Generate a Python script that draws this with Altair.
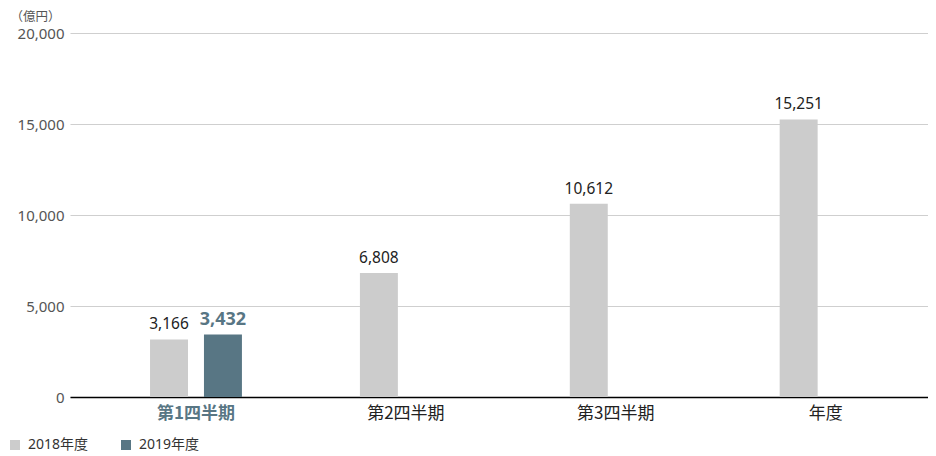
import altair as alt
import pandas as pd

categories = ["第1四半期", "第2四半期", "第3四半期", "年度"]
years = ["2018年度", "2019年度"]
values_2018 = [3166, 6808, 10612, 15251]
values_2019 = {"第1四半期": 3432}
y_ticks = [0, 5000, 10000, 15000, 20000]

rows = []
for c, v in zip(categories, values_2018):
    rows.append({"category": c, "year": years[0], "value": v})
for c, v in values_2019.items():
    rows.append({"category": c, "year": years[1], "value": v})
df = pd.DataFrame(rows)

FONT = "Noto Sans, Noto Sans CJK JP, sans-serif"
ACCENT = "#587684"
GRAY = "#cccccc"

x_enc = alt.X(
    "category:N",
    sort=categories,
    scale=alt.Scale(paddingInner=0.3, paddingOuter=0.194, align=0.645),
    axis=alt.Axis(
        title=None,
        labelAngle=0,
        ticks=False,
        domain=True,
        domainColor="#000000",
        domainWidth=1.5,
        labelFontSize=17,
        labelPadding=8,
        labelFont="Noto Sans CJK JP",
        labelColor=alt.ExprRef("datum.value == '第1四半期' ? '%s' : '#222222'" % ACCENT),
        labelFontWeight=alt.ExprRef("datum.value == '第1四半期' ? 'bold' : 'normal'"),
    ),
)
xoff_enc = alt.XOffset(
    "year:N", sort=years, scale=alt.Scale(domain=years, paddingInner=0.296, paddingOuter=0.51)
)
y_enc = alt.Y(
    "value:Q",
    scale=alt.Scale(domain=[0, 20000], nice=False),
    axis=alt.Axis(
        values=y_ticks,
        format=",.0f",
        grid=True,
        gridColor="#cfcfcf",
        gridWidth=1,
        domain=False,
        ticks=False,
        labelFontSize=15,
        labelColor="#555555",
        labelFont=FONT,
        labelPadding=6,
        title="（億円）",
        titleAngle=0,
        titleAlign="left",
        titleBaseline="middle",
        titleX=-60,
        titleY=-16.5,
        titleFontWeight="normal",
        titleFontSize=12.5,
        titleColor="#555555",
        titleFont="Noto Sans CJK JP",
    ),
)

base = alt.Chart(df).encode(x=x_enc, xOffset=xoff_enc, y=y_enc)

bars = base.mark_bar().encode(
    color=alt.Color(
        "year:N",
        scale=alt.Scale(domain=years, range=[GRAY, ACCENT]),
        legend=alt.Legend(
            orient="none",
            legendX=-62,
            legendY=405,
            direction="horizontal",
            title=None,
            symbolType="square",
            symbolSize=100,
            symbolStrokeWidth=0,
            labelFontSize=14,
            labelColor="#333333",
            labelFont=FONT,
            labelOffset=6,
            columnPadding=30,
        ),
    )
)

text18 = base.transform_filter(alt.datum.year == years[0]).mark_text(
    baseline="alphabetic", dy=-10, fontSize=15.5, color="#222222", font=FONT
).encode(text=alt.Text("value:Q", format=","))

text19 = base.transform_filter(alt.datum.year == years[1]).mark_text(
    baseline="alphabetic", dy=-10, fontSize=18, fontWeight="bold", color=ACCENT, font=FONT
).encode(text=alt.Text("value:Q", format=","))

chart = (
    alt.layer(bars, text18, text19)
    .properties(
        width=858,
        height=364,
        autosize=alt.AutoSizeParams(type="none"),
        padding={"left": 62, "top": 25, "right": 0, "bottom": 57},
    )
    .configure_view(stroke=None)
)

chart.save("out.html", embed_options={"renderer": "svg", "actions": False})
